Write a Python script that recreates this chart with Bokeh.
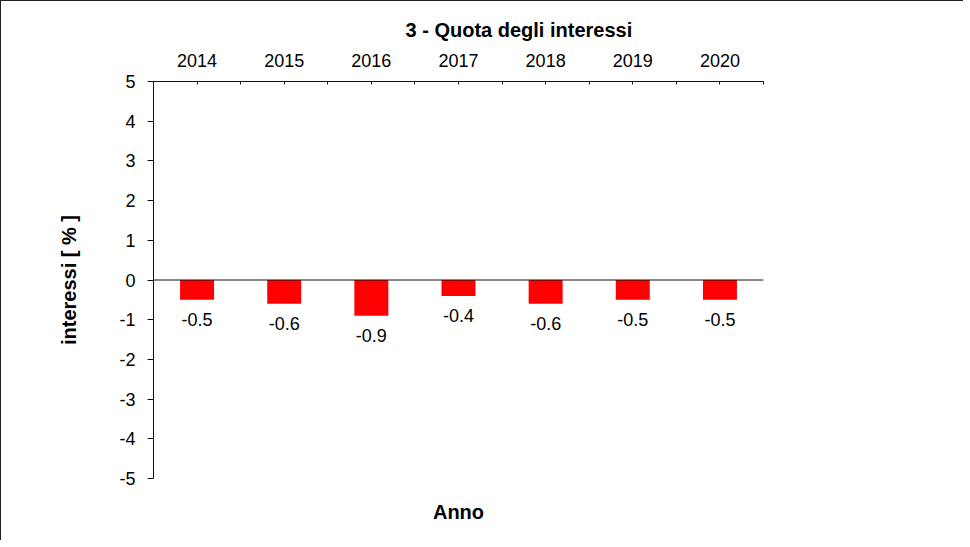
from bokeh.plotting import figure
from bokeh.models import (Range1d, LinearAxis, FixedTicker, Span, ColumnDataSource)
from bokeh.embed import file_html
from bokeh.resources import INLINE
from bokeh.core.properties import value

# ---- data ----
years = ["2014", "2015", "2016", "2017", "2018", "2019", "2020"]
interessi = [-0.5, -0.6, -0.9, -0.4, -0.6, -0.5, -0.5]
y_ticks = [5, 4, 3, 2, 1, 0, -1, -2, -3, -4, -5]
title_text = "3 - Quota degli interessi"

FONT = "Liberation Sans"
INK = "#111111"

n = len(years)
centers = [i + 0.5 for i in range(n)]
bounds = [float(i) for i in range(n + 1)]

src = ColumnDataSource(dict(
    x=centers,
    top=interessi,
    lbl=[f"{v:.1f}" for v in interessi],
))

p = figure(
    width=962, height=539,
    x_range=Range1d(0, n), y_range=Range1d(-5, 5),
    output_backend="svg", toolbar_location=None,
    x_axis_location=None, y_axis_location=None,
    min_border_left=152, min_border_top=80,
    min_border_right=200, min_border_bottom=62,
    frame_width=610, frame_height=397,
)
p.styles = {"border-top": "1px solid #222", "border-left": "1px solid #222"}
p.outline_line_color = None
p.grid.visible = False
p.background_fill_color = "white"
p.border_fill_color = "white"

# title
p.title.text = title_text
p.title.text_font = FONT
p.title.text_font_size = "20px"
p.title.text_font_style = "bold"
p.title.text_color = "black"
p.title.align = "left"
p.title.offset = 252
p.title.standoff = 20

# top axis with year labels
top_axis = LinearAxis(
    ticker=FixedTicker(ticks=centers, minor_ticks=bounds),
    major_label_overrides={c: y for c, y in zip(centers, years)},
)
top_axis.major_tick_in = 3
top_axis.major_tick_out = 0
top_axis.minor_tick_in = 3
top_axis.minor_tick_out = 0
top_axis.axis_line_color = INK
top_axis.major_tick_line_color = INK
top_axis.minor_tick_line_color = INK
top_axis.major_label_text_font = FONT
top_axis.major_label_text_font_size = "18px"
top_axis.major_label_text_color = "black"
top_axis.major_label_standoff = 15
p.add_layout(top_axis, "above")

# left axis
left_axis = LinearAxis(
    ticker=FixedTicker(ticks=y_ticks, minor_ticks=[]),
    major_label_overrides={float(t): str(t) for t in y_ticks},
)
left_axis.axis_label = "interessi [ % ]"
left_axis.axis_label_text_font = FONT
left_axis.axis_label_text_font_size = "20px"
left_axis.axis_label_text_font_style = "bold"
left_axis.axis_label_text_color = "black"
left_axis.axis_label_standoff = 36
left_axis.major_tick_in = 0
left_axis.major_tick_out = 6
left_axis.axis_line_color = INK
left_axis.major_tick_line_color = INK
left_axis.major_label_text_font = FONT
left_axis.major_label_text_font_size = "18px"
left_axis.major_label_text_color = "black"
left_axis.major_label_standoff = 12
p.add_layout(left_axis, "left")

# bottom axis only for the "Anno" label
bottom_axis = LinearAxis(ticker=FixedTicker(ticks=[]))
bottom_axis.axis_line_color = None
bottom_axis.major_tick_line_color = None
bottom_axis.minor_tick_line_color = None
bottom_axis.major_label_text_font_size = "0px"
bottom_axis.axis_label = "Anno"
bottom_axis.axis_label_text_font = FONT
bottom_axis.axis_label_text_font_size = "20px"
bottom_axis.axis_label_text_font_style = "bold"
bottom_axis.axis_label_text_color = "black"
bottom_axis.axis_label_standoff = 22
p.add_layout(bottom_axis, "below")

# bars
p.vbar(x="x", top="top", bottom=0, width=0.39, source=src,
       fill_color="#FF0000", line_color=None)

# zero line
p.add_layout(Span(location=0, dimension="width", line_color=INK, line_width=1))

# value labels
p.text(x="x", y="top", text="lbl", source=src,
       text_font=value(FONT), text_font_size="18px", text_color="black",
       text_align="center", text_baseline="top", y_offset=13)

open("out.html", "w").write(file_html(p, INLINE))
